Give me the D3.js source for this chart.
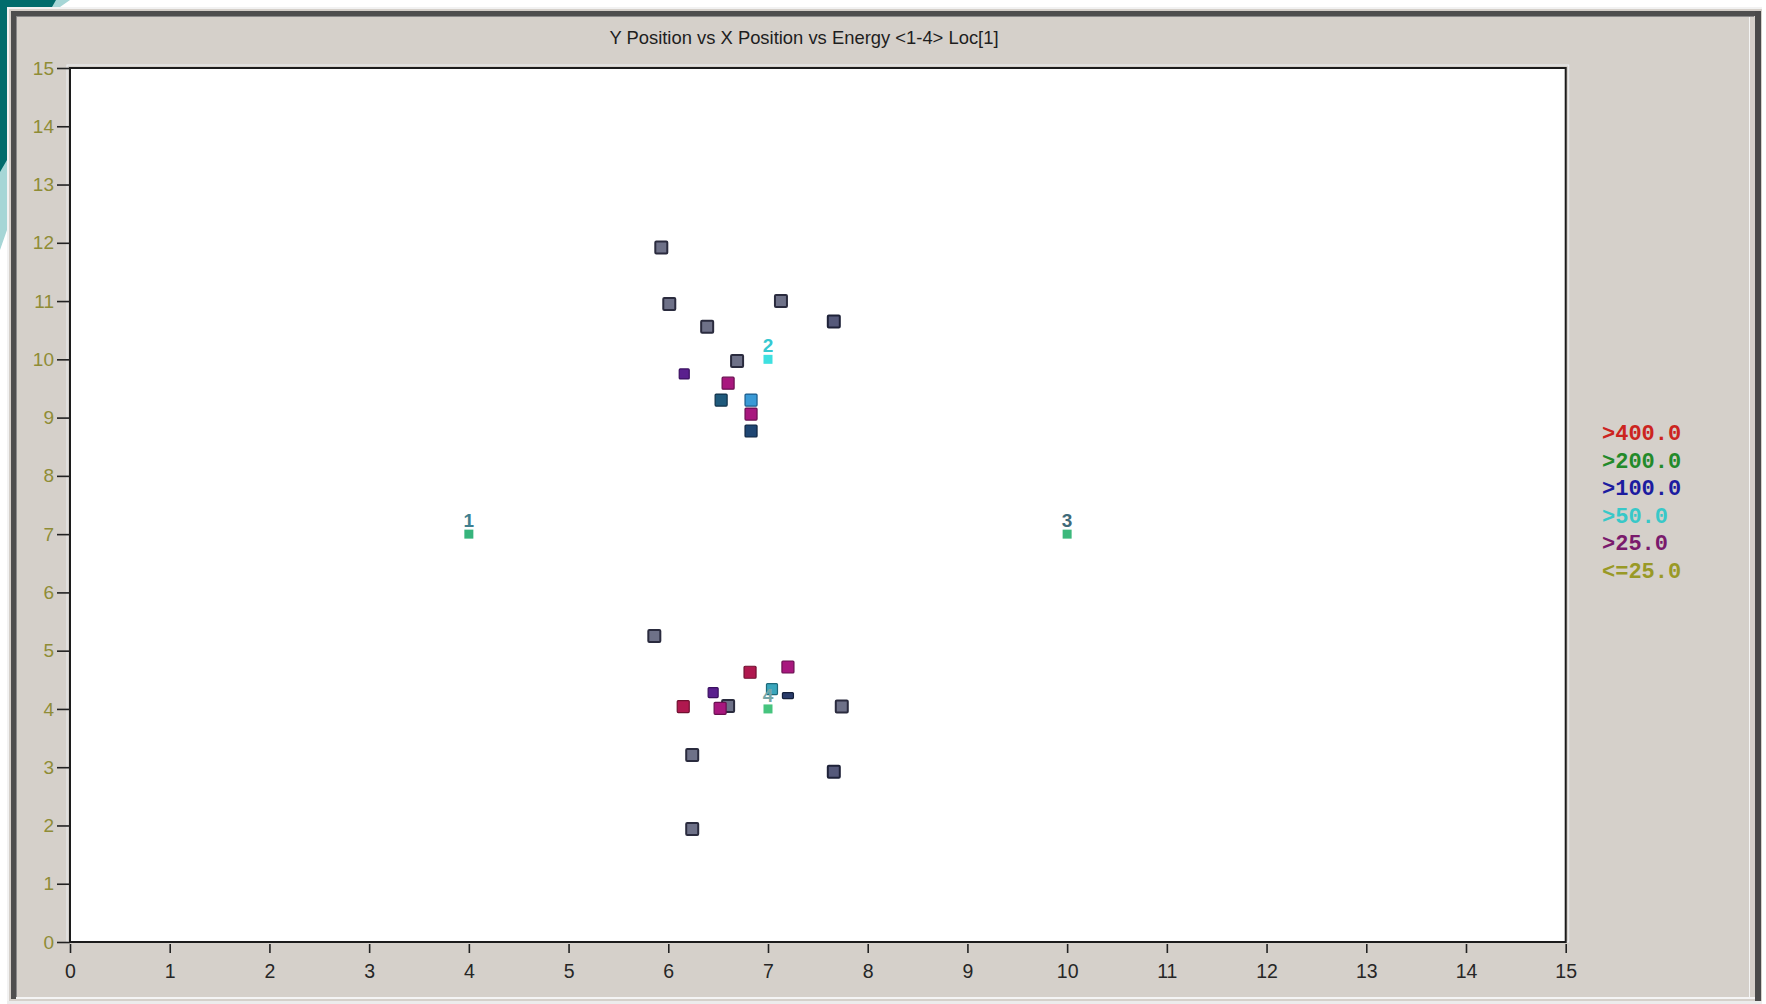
<!DOCTYPE html>
<html>
<head>
<meta charset="utf-8">
<script src="https://cdn.jsdelivr.net/npm/d3@7"></script>
<style>
  html, body { margin: 0; padding: 0; background: #ffffff; }
  svg { display: block; }
</style>
</head>
<body>
<svg id="chart" width="1766" height="1004"></svg>
<script>
// Hit positions (x, y in position units) and the colour group of each hit
const hitX = [5.93, 6.01, 6.39, 7.13, 7.66, 6.69, 6.16, 6.60, 6.53, 6.83, 6.83, 6.83,
              5.86, 6.60, 6.15, 6.45, 6.52, 6.82, 7.20, 7.04, 7.20, 7.74, 6.24, 7.66, 6.24];
const hitY = [11.92, 10.95, 10.56, 11.00, 10.65, 9.97, 9.75, 9.59, 9.30, 9.30, 9.06, 8.77,
              5.25, 4.05, 4.04, 4.28, 4.01, 4.63, 4.72, 4.34, 4.23, 4.04, 3.21, 2.92, 1.94];
const hitGroup = ["gray", "gray", "gray", "gray", "slate", "gray", "violet", "magenta", "teal", "sky", "magenta", "navy",
                  "gray", "gray", "crimson", "violet", "magenta", "crimson", "magenta", "aqua", "navyBar", "gray", "gray", "slate", "gray"];

// Sensor locations 1-4
const sensorX = [4, 7, 10, 7];
const sensorY = [7, 10, 7, 4];
const sensorLabel = ["1", "2", "3", "4"];

// Energy legend
const legendLabels = [">400.0", ">200.0", ">100.0", ">50.0", ">25.0", "<=25.0"];

// Axis ticks
const xTicks = d3.range(0, 16);
const yTicks = d3.range(0, 16);

const titleText = "Y Position vs X Position vs Energy <1-4> Loc[1]";

// ---- styles ----
const groupStyle = {
  gray:    { fill: "#6e7188", stroke: "#2a2b3e", size: 12 },
  slate:   { fill: "#55597a", stroke: "#1e2238", size: 12 },
  violet:  { fill: "#5a1f8e", stroke: "#3a0f60", size: 10 },
  magenta: { fill: "#a8177e", stroke: "#6a0f50", size: 12 },
  crimson: { fill: "#b0184f", stroke: "#701030", size: 12 },
  teal:    { fill: "#1f5a7c", stroke: "#0f3048", size: 12 },
  sky:     { fill: "#3a9ad6", stroke: "#1a5a8a", size: 12 },
  navy:    { fill: "#1f4673", stroke: "#0f2440", size: 12 },
  aqua:    { fill: "#3aa6bc", stroke: "#1e6a7a", size: 11 },
  navyBar: { fill: "#2a3c6a", stroke: "#14203c", size: 11 }
};
const sensorStyle = {
  "1": { mark: "#36b47c", text: "#3f7f8f" },
  "2": { mark: "#3ee0e0", text: "#36c8d0" },
  "3": { mark: "#3cb87c", text: "#3f6a7a" },
  "4": { mark: "#46c47e", text: "#76a6a6" }
};
const legendColors = ["#cc2420", "#238a2a", "#1c1ca0", "#38c8c8", "#7a1a6c", "#999926"];

const svg = d3.select("#chart");
const W = 1766, H = 1004;

// ---- desktop corner and window frame ----
svg.append("rect").attr("width", W).attr("height", H).attr("fill", "#ffffff");
svg.append("path").attr("d", "M0,0 H70 L60,7 H7 V230 L0,250 Z").attr("fill", "#a6d6d6");
svg.append("path").attr("d", "M0,0 H56 L52,7 H7 V160 L0,172 Z").attr("fill", "#006c6c");

svg.append("rect").attr("x", 7).attr("y", 7).attr("width", 1755).attr("height", 995).attr("fill", "#d5d0ca");
// raised edge highlights
svg.append("rect").attr("x", 7).attr("y", 7).attr("width", 1755).attr("height", 2).attr("fill", "#f2f2f2");
svg.append("rect").attr("x", 7).attr("y", 7).attr("width", 2).attr("height", 995).attr("fill", "#f2f2f2");
// dark inner band top / left
svg.append("rect").attr("x", 11).attr("y", 11).attr("width", 1745).attr("height", 5).attr("fill", "#4e4e4e");
svg.append("rect").attr("x", 11).attr("y", 11).attr("width", 5).attr("height", 988).attr("fill", "#4e4e4e");
svg.append("rect").attr("x", 16).attr("y", 16).attr("width", 1738).attr("height", 1).attr("fill", "#8a8a8a");
svg.append("rect").attr("x", 16).attr("y", 16).attr("width", 1).attr("height", 982).attr("fill", "#8a8a8a");
// right edge
svg.append("rect").attr("x", 1749).attr("y", 17).attr("width", 1).attr("height", 982).attr("fill", "#f4f4f4");
svg.append("rect").attr("x", 1755).attr("y", 11).attr("width", 6).attr("height", 991).attr("fill", "#4a4a4a");
// bottom edge
svg.append("rect").attr("x", 16).attr("y", 997).attr("width", 1739).attr("height", 2).attr("fill", "#f4f4f4");
svg.append("rect").attr("x", 7).attr("y", 1001).attr("width", 1755).attr("height", 3).attr("fill", "#ececec");

// ---- scales ----
const plot = { left: 70, top: 68, right: 1565.7, bottom: 942 };
const x = d3.scaleLinear().domain([0, 15]).range([plot.left, plot.right]);
const y = d3.scaleLinear().domain([0, 15]).range([plot.bottom, plot.top]);

// ---- title ----
svg.append("text")
  .attr("x", 804).attr("y", 44)
  .attr("text-anchor", "middle")
  .attr("font-family", "'Liberation Sans', Arial, sans-serif")
  .attr("font-size", 18.4)
  .attr("fill", "#1e1e1e")
  .text(titleText);

// ---- plot area ----
svg.append("rect")
  .attr("x", plot.left - 3).attr("y", plot.top - 3)
  .attr("width", plot.right - plot.left + 6).attr("height", plot.bottom - plot.top + 3)
  .attr("fill", "none").attr("stroke", "#eceef2").attr("stroke-width", 1);
svg.append("rect")
  .attr("x", plot.left).attr("y", plot.top)
  .attr("width", plot.right - plot.left).attr("height", plot.bottom - plot.top)
  .attr("fill", "#ffffff").attr("stroke", "#1c1c1c").attr("stroke-width", 2);

// ---- axes ----
const yAxis = svg.append("g")
  .attr("transform", `translate(${plot.left},0)`)
  .call(d3.axisLeft(y).tickValues(yTicks).tickFormat(d3.format("d")).tickSize(13).tickPadding(3));
yAxis.select(".domain").remove();
yAxis.selectAll(".tick line").attr("stroke", "#222").attr("stroke-width", 1.6);
yAxis.selectAll(".tick text")
  .attr("font-family", "'Liberation Sans', Arial, sans-serif")
  .attr("font-size", 19)
  .attr("fill", "#8f8c36");

const xAxis = svg.append("g")
  .attr("transform", `translate(0,${plot.bottom + 2})`)
  .call(d3.axisBottom(x).tickValues(xTicks).tickFormat(d3.format("d")).tickSize(9).tickPadding(11));
xAxis.select(".domain").remove();
xAxis.selectAll(".tick line").attr("stroke", "#222").attr("stroke-width", 1.6);
xAxis.selectAll(".tick text")
  .attr("font-family", "'Liberation Sans', Arial, sans-serif")
  .attr("font-size", 19.5)
  .attr("fill", "#262626");

// ---- hits ----
const hits = hitX.map((v, i) => ({ x: v, y: hitY[i], group: hitGroup[i] }));
svg.append("g").selectAll("rect")
  .data(hits)
  .join("rect")
  .each(function (d) {
    const s = groupStyle[d.group];
    const w = s.size, h = d.group === "navyBar" ? 6 : s.size;
    d3.select(this)
      .attr("x", x(d.x) - w / 2).attr("y", y(d.y) - h / 2)
      .attr("width", w).attr("height", h)
      .attr("rx", 1)
      .attr("fill", s.fill)
      .attr("stroke", s.stroke)
      .attr("stroke-width", d.group === "gray" || d.group === "slate" ? 2 : 1.2);
  });

// ---- sensors ----
const sensors = sensorX.map((v, i) => ({ x: v, y: sensorY[i], label: sensorLabel[i] }));
const sg = svg.append("g");
sg.selectAll("rect")
  .data(sensors)
  .join("rect")
  .attr("x", d => x(d.x) - 4.5).attr("y", d => y(d.y) - 4.5)
  .attr("width", 9).attr("height", 9)
  .attr("fill", d => sensorStyle[d.label].mark);
sg.selectAll("text")
  .data(sensors)
  .join("text")
  .attr("x", d => x(d.x)).attr("y", d => y(d.y) - 7)
  .attr("text-anchor", "middle")
  .attr("font-family", "'Liberation Sans', Arial, sans-serif")
  .attr("font-weight", "bold")
  .attr("font-size", 19)
  .attr("fill", d => sensorStyle[d.label].text)
  .text(d => d.label);

// ---- legend ----
svg.append("g").selectAll("text")
  .data(legendLabels)
  .join("text")
  .attr("x", 1602)
  .attr("y", (d, i) => 440 + i * 27.6)
  .attr("font-family", "'Liberation Mono', 'Courier New', monospace")
  .attr("font-weight", "bold")
  .attr("font-size", 22)
  .attr("fill", (d, i) => legendColors[i])
  .text(d => d);
</script>
</body>
</html>
